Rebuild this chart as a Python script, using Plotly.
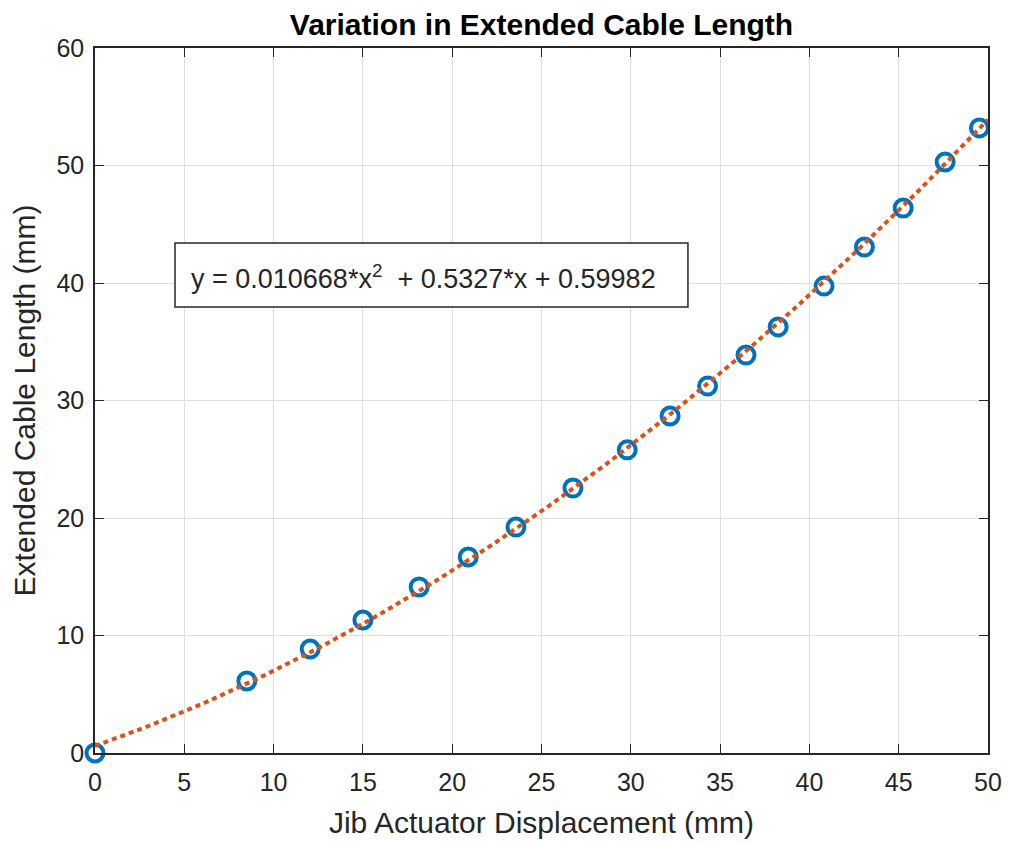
import numpy as np
import plotly.graph_objects as go

disp_mm = [0, 8.5, 12.05, 15.0, 18.15, 20.9, 23.57, 26.76, 29.8, 32.2, 34.3, 36.45, 38.25, 40.82, 43.08, 45.25, 47.6, 49.52]
cable_mm = [0, 6.13, 8.85, 11.32, 14.13, 16.68, 19.23, 22.55, 25.8, 28.68, 31.23, 33.87, 36.26, 39.74, 43.06, 46.38, 50.3, 53.2]
fit_coeffs = [0.010668, 0.5327, 0.59982]
x_ticks = [0, 5, 10, 15, 20, 25, 30, 35, 40, 45, 50]
y_ticks = [0, 10, 20, 30, 40, 50, 60]

fit_x = np.linspace(0, 50, 200)
fit_y = np.polyval(fit_coeffs, fit_x)

FONT = "Liberation Sans, Arial, Helvetica, sans-serif"
DARK = "#262626"

fig = go.Figure()
fig.add_trace(go.Scatter(
    x=disp_mm, y=cable_mm, mode="markers",
    marker=dict(symbol="circle-open", size=17, color="#0072BD", line=dict(width=4, color="#0072BD")),
    showlegend=False, cliponaxis=False,
))
fig.add_trace(go.Scatter(
    x=fit_x, y=fit_y, mode="lines",
    line=dict(color="#D95319", width=4, dash="5px,4px"),
    showlegend=False,
))

axis_common = dict(
    showgrid=True, gridcolor="#dedede", gridwidth=1,
    showline=True, linecolor=DARK, linewidth=1.5, mirror="ticks",
    ticks="inside", ticklen=9, tickcolor=DARK, tickwidth=1.2,
    tickfont=dict(family=FONT, size=25, color=DARK),
    zeroline=False, automargin=False,
)
fig.update_xaxes(range=[0, 50], tickvals=x_ticks, ticklabelstandoff=6, **axis_common,
                 title=dict(text="Jib Actuator Displacement (mm)", font=dict(family=FONT, size=30, color=DARK), standoff=17))
fig.update_yaxes(range=[0, 60], tickvals=y_ticks, ticklabelstandoff=4, **axis_common,
                 title=dict(text="Extended Cable Length (mm)", font=dict(family=FONT, size=30, color=DARK), standoff=12))

# equation text box
fig.add_shape(type="rect", xref="x", yref="y", x0=4.48, x1=33.2, y0=37.96, y1=43.4,
              line=dict(color=DARK, width=1.5), fillcolor="white", layer="above")
fig.add_annotation(xref="x", yref="y", x=5.25, y=40.5, xanchor="left", yanchor="middle",
                   text="y = 0.010668*x<sup>2</sup>  + 0.5327*x + 0.59982", showarrow=False,
                   font=dict(family=FONT, size=27, color=DARK))

fig.update_layout(
    width=1010, height=844,
    margin=dict(l=87, r=30, t=40, b=99),
    paper_bgcolor="white", plot_bgcolor="white",
    title=dict(text="<b>Variation in Extended Cable Length</b>", xref="paper", x=0.5, xanchor="center",
               yref="container", y=0.98, yanchor="middle",
               font=dict(family=FONT, size=30, color="black")),
)
fig.write_html("out.html")
